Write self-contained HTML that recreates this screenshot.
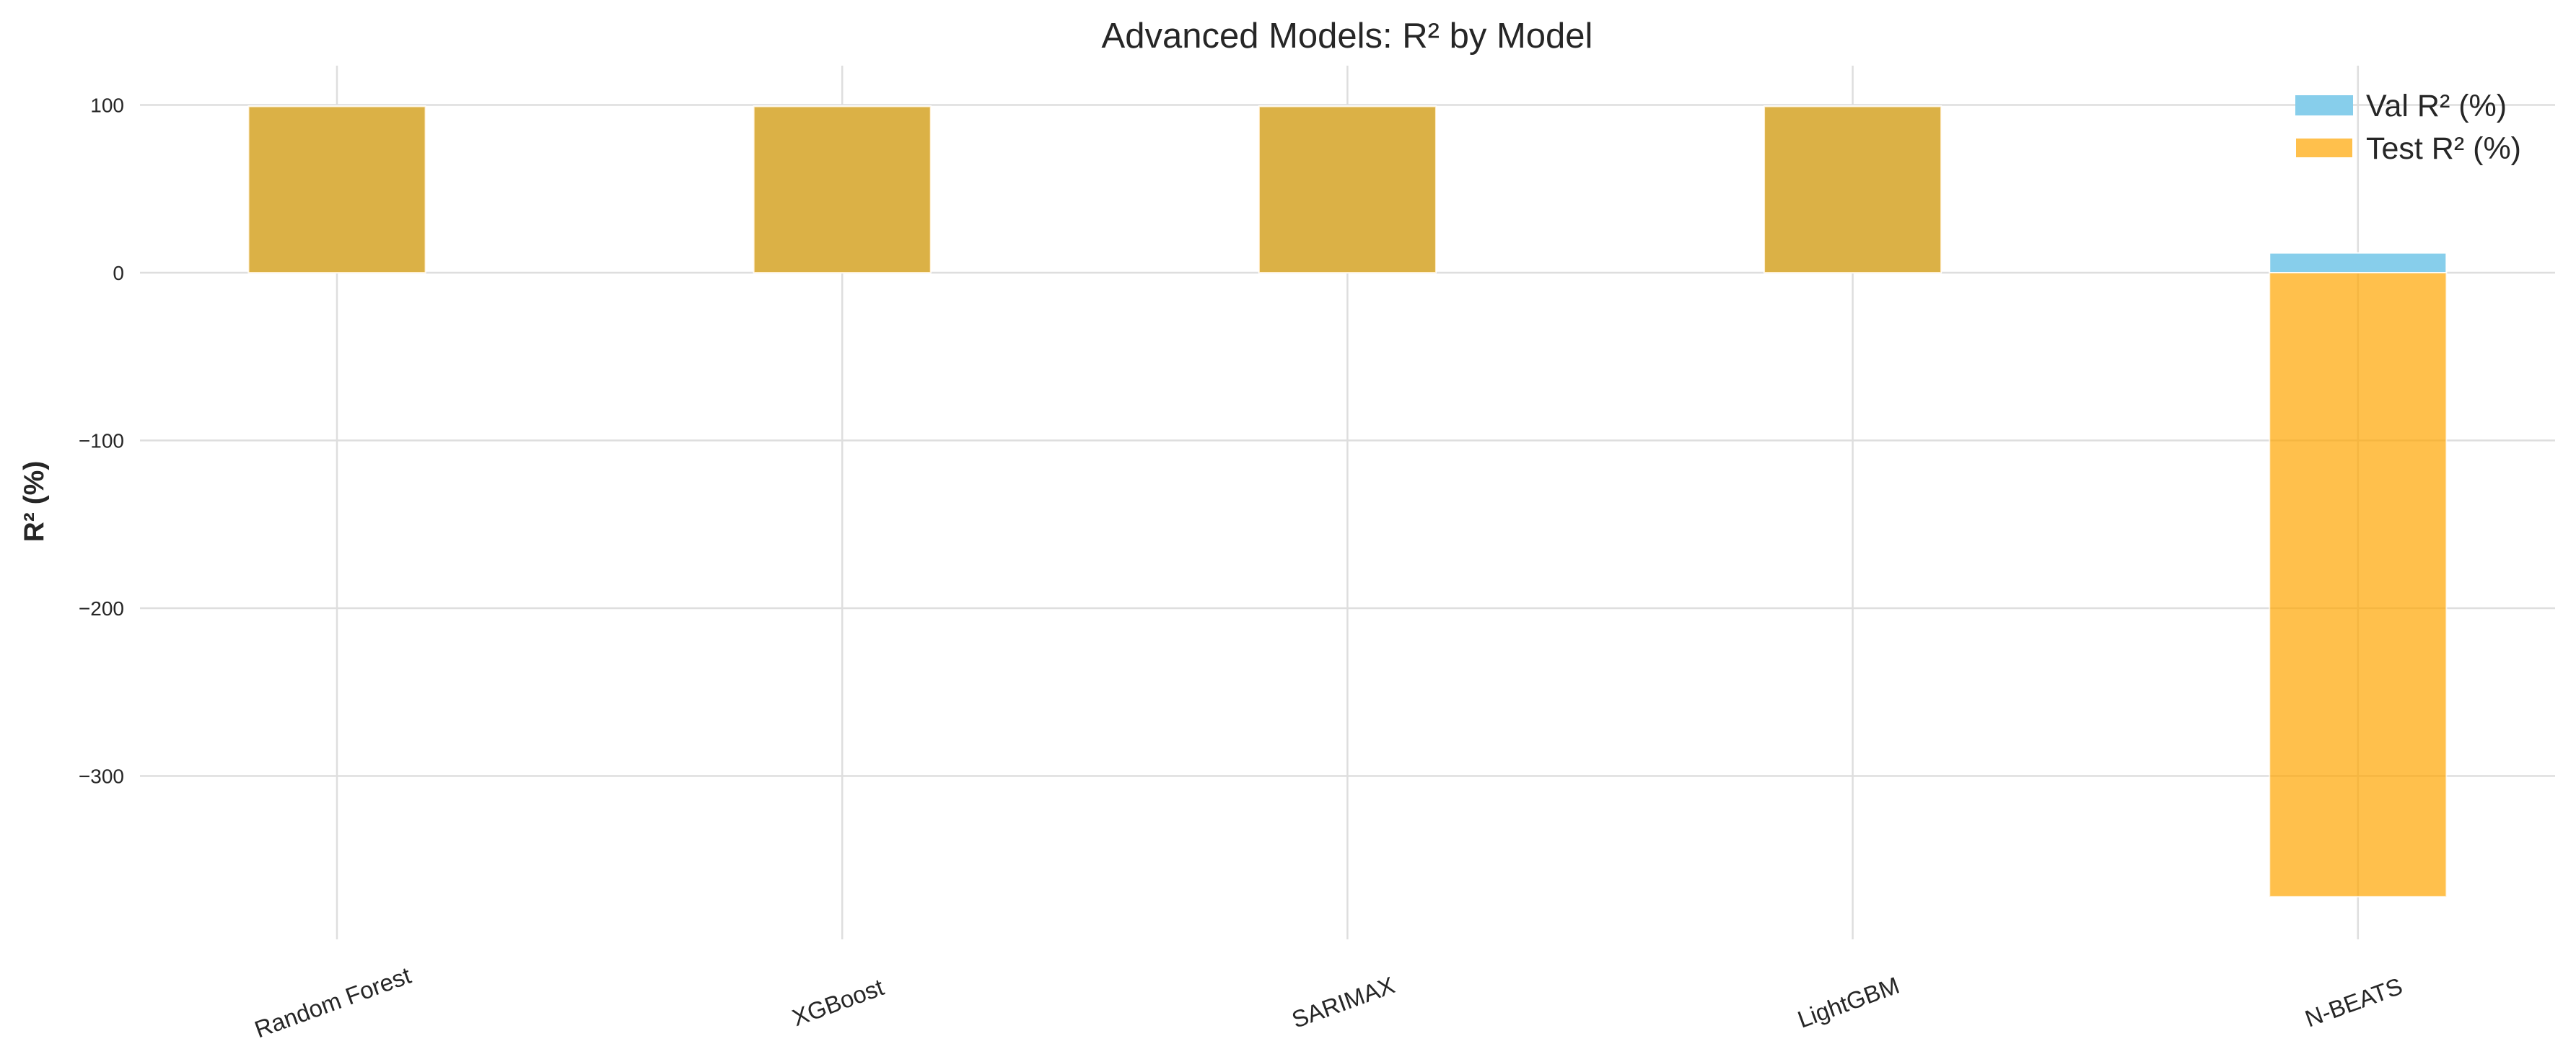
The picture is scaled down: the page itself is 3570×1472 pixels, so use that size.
<!DOCTYPE html>
<html><head><meta charset="utf-8"><style>
html,body{margin:0;padding:0;background:#fff;}
svg{display:block;font-family:"Liberation Sans",Arial,sans-serif;}
</style></head><body>
<svg id="chart" width="3570" height="1472" viewBox="0 0 3570 1472" xmlns="http://www.w3.org/2000/svg">
<text x="1867" y="66" text-anchor="middle" font-size="49" fill="#262626">Advanced Models: R² by Model</text>
<text transform="translate(60,695) rotate(-90)" text-anchor="middle" font-size="39" font-weight="bold" fill="#262626">R² (%)</text>
<g id="grid"></g>
<g id="bars"></g>
<g id="yticks"></g>
<g id="xticks"></g>
<g>
  <rect x="3181" y="132" width="80" height="28" fill="#87CEEB"/>
  <text x="3279" y="161" font-size="43" fill="#262626">Val R² (%)</text>
  <rect x="3181" y="191" width="80" height="28" fill="#FFA500" fill-opacity="0.7" stroke="#fff" stroke-width="2"/>
  <text x="3279" y="220" font-size="43" fill="#262626">Test R² (%)</text>
</g>
</svg>
<script>
const categories = ["Random Forest","XGBoost","SARIMAX","LightGBM","N-BEATS"];
const valR2 = [99.3, 99.3, 99.3, 99.3, 11.8];
const testR2 = [99.1, 99.1, 99.1, 99.1, -372];
const yTicks = [100, 0, -100, -200, -300];
const yTickLabels = ["100","0","\u2212100","\u2212200","\u2212300"];

const NS = "http://www.w3.org/2000/svg";
const plotL = 194, plotR = 3541, plotT = 91, plotB = 1302;
function y(v){ return 378 - v * 2.325; }
function x(i){ return 467 + i * 700.2; }
const barW = 0.35 * 700.2;
function mk(tag, attrs, parent){ const e = document.createElementNS(NS, tag); for (const k in attrs) e.setAttribute(k, attrs[k]); parent.appendChild(e); return e; }

const grid = document.getElementById('grid');
yTicks.forEach((t, i) => {
  const l = mk('line', {x1: plotL, x2: plotR, y1: y(t), y2: y(t), stroke: '#dedede', 'stroke-width': 2.5}, grid);
  
  
  const tx = mk('text', {x: 172, y: y(t) + 10, 'text-anchor': 'end', 'font-size': 28, fill: '#262626'}, document.getElementById('yticks'));
  tx.textContent = yTickLabels[i];
  
  
});
categories.forEach((c, i) => {
  const l = mk('line', {x1: x(i), x2: x(i), y1: plotT, y2: plotB, stroke: '#dedede', 'stroke-width': 2.5}, grid);
  
  
  const tx = mk('text', {x: 0, y: 0, 'text-anchor': 'middle', 'font-size': 33, fill: '#262626', transform: 'translate(' + (x(i) - 2) + ',1400) rotate(-20)'}, document.getElementById('xticks'));
  tx.textContent = c;
  
  
});
const bars = document.getElementById('bars');
categories.forEach((c, i) => {
  const v = valR2[i];
  const r = mk('rect', {x: x(i) - barW/2, y: Math.min(y(v), y(0)), width: barW, height: Math.abs(y(v) - y(0)), fill: '#87CEEB', stroke: '#fff', 'stroke-width': 2}, bars);
  
  
});
categories.forEach((c, i) => {
  const v = testR2[i];
  const r = mk('rect', {x: x(i) - barW/2, y: Math.min(y(v), y(0)), width: barW, height: Math.abs(y(v) - y(0)), fill: '#FFA500', 'fill-opacity': 0.7, stroke: '#fff', 'stroke-opacity': 0.7, 'stroke-width': 2}, bars);
  
  
});
</script>
</body></html>
